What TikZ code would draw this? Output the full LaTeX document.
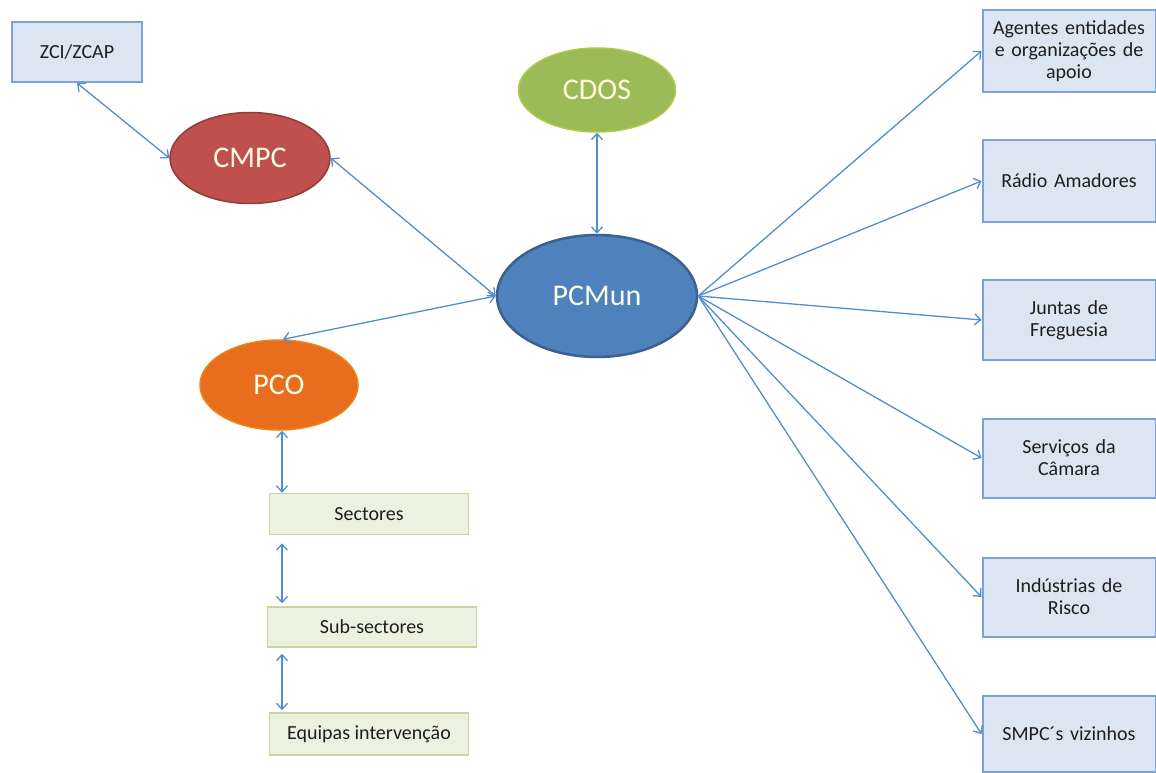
\documentclass[tikz,border=0pt]{standalone}
\usepackage{fontspec}
\setmainfont{Carlito}
\setsansfont{Carlito}
\usetikzlibrary{arrows.meta,shapes.geometric}
\definecolor{lnkB}{RGB}{84,141,203}
\definecolor{boxB}{RGB}{125,163,212}
\definecolor{boxF}{RGB}{220,230,242}
\definecolor{lvlB}{RGB}{200,214,160}
\definecolor{lvlF}{RGB}{236,241,224}
\definecolor{txtD}{RGB}{30,30,30}
\definecolor{cmpcR}{RGB}{192,80,77}
\definecolor{cdosG}{RGB}{155,187,89}
\definecolor{pcmB}{RGB}{79,129,189}
\definecolor{pcoO}{RGB}{232,110,30}

\begin{document}
\begin{tikzpicture}[x=1pt,y=-1pt,font=\sffamily]
  \tikzset{ell/.style={ellipse,draw=#1!75!black,line width=1.5pt,fill=#1,inner sep=0pt,text=white!92!yellow,font=\sffamily\fontsize{30}{32}\selectfont},
    orgbox/.style={draw=boxB,line width=2pt,fill=boxF,minimum width=173pt,minimum height=80pt,text width=165pt,align=center,inner sep=0pt,text=txtD,font=\sffamily\fontsize{20}{22}\selectfont},
    lvlbox/.style={draw=lvlB,line width=1.5pt,fill=lvlF,minimum height=41pt,inner sep=0pt,text=txtD,font=\sffamily\fontsize{20}{22}\selectfont},
    biarr/.style={{Straight Barb[length=6pt,width=11pt]}-{Straight Barb[length=6pt,width=11pt]},line width=1.3pt,lnkB},
    onearr/.style={-{Straight Barb[length=6pt,width=11pt]},line width=1.3pt,lnkB}}
  \useasboundingbox (0,0) rectangle (1156,773);
  \node[orgbox,minimum width=130pt,minimum height=60pt,text width=120pt] (zci) at (77,52) {ZCI/ZCAP};
  \node[ell=cmpcR,minimum width=160pt,minimum height=91pt] (cmpc) at (250,158) {CMPC};
  \node[ell=cdosG,draw=cdosG!80!yellow,minimum width=157pt,minimum height=84pt,text=yellow!15] (cdos) at (597,90) {CDOS};
  \node[ell=pcmB,line width=2.5pt,minimum width=200pt,minimum height=122pt] (pcmun) at (597,296) {PCMun};
  \node[ell=pcoO,draw=pcoO!85!yellow,minimum width=158pt,minimum height=90pt] (pco) at (279,385) {PCO};
  \node[lvlbox,minimum width=199pt] (sect) at (369,514) {Sectores};
  \node[lvlbox,minimum width=209pt,minimum height=40pt] (subs) at (372,627) {Sub-sectores};
  \node[lvlbox,minimum width=199pt,minimum height=42pt] (equip) at (369,734) {Equipas intervenção};
  \node[orgbox,minimum height=82pt] (agt) at (1069,51) {Agentes entidades\\e organizações de\\apoio};
  \node[orgbox,minimum height=82pt] (rad) at (1069,181) {Rádio Amadores};
  \node[orgbox] (jun) at (1069,320) {Juntas de\\Freguesia};
  \node[orgbox,minimum height=79pt] (srv) at (1069,458) {Serviços da\\Câmara};
  \node[orgbox,minimum height=79pt] (ind) at (1069,597) {Indústrias de\\Risco};
  \node[orgbox,minimum height=76pt] (smpc) at (1069,734) {SMPC´s vizinhos};
  \draw[biarr] (zci.south) -- (cmpc.west);
  \draw[biarr] (cmpc.east) -- (pcmun.west);
  \draw[biarr] (cdos) -- (pcmun);
  \draw[biarr] (pcmun.west) -- (pco.85);
  \draw[biarr] ([xshift=3pt]pco.south) -- ([xshift=3pt]pco.south |- sect.north);
  \draw[biarr,shorten <=8pt,shorten >=3pt] ([xshift=3pt]pco.south |- sect.south) -- ([xshift=3pt]pco.south |- subs.north);
  \draw[biarr,shorten <=6pt,shorten >=2pt] ([xshift=3pt]pco.south |- subs.south) -- ([xshift=3pt]pco.south |- equip.north);
  \foreach \t in {agt,rad,jun,srv,ind,smpc} {
    \draw[onearr] (pcmun.east) -- (\t.west);
  }
\end{tikzpicture}
\end{document}
